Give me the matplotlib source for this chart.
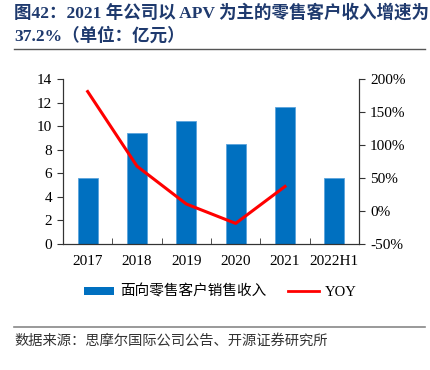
import matplotlib
matplotlib.use("Agg")
import matplotlib.pyplot as plt
from matplotlib.lines import Line2D
from matplotlib.patches import Patch
import numpy as np

categories = ["2017", "2018", "2019", "2020", "2021", "2022H1"]
revenue = [5.6, 9.4, 10.4, 8.45, 11.6, 5.6]
yoy = [181.0, 67.9, 10.6, -18.8, 37.2]  # percent, 2017-2021
left_ticks = [0, 2, 4, 6, 8, 10, 12, 14]
right_ticks = [-50, 0, 50, 100, 150, 200]

FAM = ["Liberation Serif", "Noto Sans CJK SC"]
CJK = ["Noto Sans CJK SC", "DejaVu Sans"]
plt.rcParams["font.family"] = FAM

fig = plt.figure(figsize=(4.3, 3.7), dpi=100)
ax = fig.add_axes([63/430, 1-244/370, (359-63)/430, (244-79)/370])
x = np.arange(len(categories))
ax.bar(x, revenue, width=0.4, color="#0070C0", edgecolor="#5BA3DC", linewidth=0.6, zorder=2)
ax.set_xlim(-0.5, len(categories)-0.5)
ax.set_ylim(0, 14)
ax.set_yticks(left_ticks)
ax.set_yticklabels([str(t) for t in left_ticks], fontsize=11)
ax.set_xticks(x)
ax.set_xticklabels(categories, fontsize=11)
ax.tick_params(axis="x", length=0, pad=8)
ax.set_xticks(np.arange(0.5, len(categories)-0.5, 1), minor=True)
ax.tick_params(axis="x", which="minor", direction="in", length=4, color="#333333")
ax.tick_params(axis="y", direction="out", length=4, color="#333333", pad=4)
ax.spines["top"].set_visible(False)
for s in ["left", "bottom", "right"]:
    ax.spines[s].set_color("#333333")
    ax.spines[s].set_linewidth(0.8)

ax2 = ax.twinx()
ax2.plot(x[:len(yoy)], yoy, color="#FF0000", linewidth=2.2, zorder=3)
ax2.set_ylim(-50, 200)
ax2.set_yticks(right_ticks)
ax2.set_yticklabels([f"{t}%" for t in right_ticks], fontsize=11)
ax2.tick_params(axis="y", direction="out", length=4, color="#333333", pad=4)
ax2.spines["top"].set_visible(False)
for s in ["left", "bottom", "right"]:
    ax2.spines[s].set_color("#333333")
    ax2.spines[s].set_linewidth(0.8)

# title
title_color = "#1F3A6E"
fig.text(14/430, 1-13/370, "图42：2021 年公司以 APV 为主的零售客户收入增速为",
         fontsize=12.6, fontweight="bold", color=title_color, va="center", ha="left", family=FAM)
fig.text(14/430, 1-36/370, "37.2%（单位：亿元）",
         fontsize=12.6, fontweight="bold", color=title_color, va="center", ha="left", family=FAM)
fig.add_artist(Line2D([14/430, 425/430], [1-49/370, 1-49/370], color="#555555", linewidth=1.0))

# legend
handles = [Patch(facecolor="#0070C0", edgecolor="none"),
           Line2D([0], [0], color="#FF0000", linewidth=2)]
leg = fig.legend(handles, ["面向零售客户销售收入", "YOY"], loc="center",
                 bbox_to_anchor=(220/430, 1-292/370), ncol=2, frameon=False,
                 prop={"family": FAM, "size": 10.5}, handlelength=2.1, handleheight=0.45,
                 columnspacing=1.5, handletextpad=0.4)

fig.add_artist(Line2D([14/430, 425/430], [1-327/370, 1-327/370], color="#888888", linewidth=1.2))
fig.text(14/430, 1-341/370, "数据来源：思摩尔国际公司公告、开源证券研究所",
         fontsize=10.3, color="#333333", va="center", ha="left", family=CJK)

fig.savefig("out.png", dpi=100)
